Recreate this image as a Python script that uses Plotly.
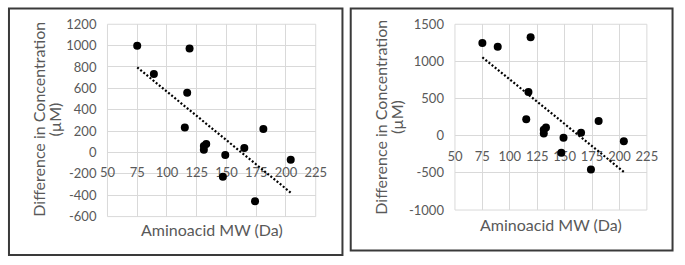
import numpy as np
import plotly.graph_objects as go

# ---- data ----
mw = [75, 89, 119, 117, 115, 131, 131, 133, 149, 147, 165, 181, 174, 204]
diff_left = [1000, 735, 972, 559, 234, 61, 26, 79, -23, -228, 41, 220, -456, -67]
diff_right = [1247, 1196, 1326, 589, 222, 80, 30, 109, -27, -229, 41, 197, -453, -73]

x_ticks = [50, 75, 100, 125, 150, 175, 200, 225]
y_ticks_left = [-600, -400, -200, 0, 200, 400, 600, 800, 1000, 1200]
y_ticks_right = [-1000, -500, 0, 500, 1000, 1500]

x_title = "Aminoacid MW (Da)"
y_title_1 = "Difference in Concentration"
y_title_2 = "(µM)"

W, H = 685, 265
FONT = "Lato, 'Open Sans', sans-serif"
GRAY = "#595959"
GRID = "#d9d9d9"


def px(x):
    return x / W


def py(y):
    return 1 - y / H


def trend(xs, ys):
    m, b = np.polyfit(xs, ys, 1)
    xe = [min(xs), max(xs)]
    return xe, [m * v + b for v in xe]


fig = go.Figure()

panels = [
    dict(y=diff_left, xa="x", ya="y", dx=(102.3, 316.5), dy=(222.0, 17.3),
         yr=(-600, 1200), yt=y_ticks_left),
    dict(y=diff_right, xa="x2", ya="y2", dx=(459.7, 657.1), dy=(215.0, 17.3),
         yr=(-1000, 1500), yt=y_ticks_right),
]

for i, p in enumerate(panels):
    tl_x, tl_y = trend(mw, p["y"])
    fig.add_trace(go.Scatter(x=tl_x, y=tl_y, mode="lines", xaxis=p["xa"], yaxis=p["ya"],
                             line=dict(color="black", width=2.2, dash="2px,2px"),
                             hoverinfo="skip", showlegend=False))
    fig.add_trace(go.Scatter(x=mw, y=p["y"], mode="markers", xaxis=p["xa"], yaxis=p["ya"],
                             marker=dict(color="black", size=8),
                             hoverinfo="skip", showlegend=False))

    y0, y1 = p["yr"]
    ptop, pbot = p["dy"][1], p["dy"][0]
    zero_px = pbot - (0 - y0) / (y1 - y0) * (pbot - ptop)

    suffix = "" if i == 0 else "2"
    xaxis = dict(domain=[px(p["dx"][0]), px(p["dx"][1])], range=[50, 225],
                 tickvals=x_ticks, showgrid=True, gridcolor=GRID, gridwidth=1,
                 zeroline=False, showline=False, ticks="",
                 anchor="free", position=py(zero_px), layer="below traces",
                 ticklabelstandoff=11, fixedrange=True,
                 tickfont=dict(family=FONT, size=13, color=GRAY))
    yaxis = dict(domain=[py(p["dy"][0]), py(p["dy"][1])], range=list(p["yr"]),
                 tickvals=p["yt"], ticktext=[str(v) for v in p["yt"]],
                 showgrid=True, gridcolor=GRID, gridwidth=1,
                 zeroline=True, zerolinecolor=GRID, zerolinewidth=1,
                 showline=False, ticks="", anchor="x" + suffix,
                 ticklabelstandoff=10, fixedrange=True,
                 tickfont=dict(family=FONT, size=13, color=GRAY))
    fig.update_layout(**{"xaxis" + suffix: xaxis, "yaxis" + suffix: yaxis})

    fig.add_shape(type="rect", xref=p["xa"] + " domain", yref=p["ya"] + " domain",
                  x0=0, x1=1, y0=0, y1=1, line=dict(color=GRID, width=1), layer="below")

annotations = [
    dict(x=px(31.0), y=py(118.7), text=y_title_1, textangle=-90),
    dict(x=px(48.3), y=py(118.7), text=y_title_2, textangle=-90),
    dict(x=px(383.3), y=py(116.0), text=y_title_1, textangle=-90),
    dict(x=px(400.0), y=py(116.0), text=y_title_2, textangle=-90),
    dict(x=px(209.5), y=py(235.7), text=x_title),
    dict(x=px(558.3), y=py(230.7), text=x_title),
]
for a in annotations:
    fig.add_annotation(xref="paper", yref="paper", showarrow=False,
                       xanchor="center", yanchor="middle",
                       font=dict(family=FONT, size=16, color=GRAY), **a)

FRAME = "#3a3a3a"
fig.add_shape(type="rect", xref="paper", yref="paper",
              x0=px(1), x1=px(344), y0=py(263), y1=py(0.5),
              line=dict(color=FRAME, width=2))
fig.add_shape(type="rect", xref="paper", yref="paper",
              x0=px(352.5), x1=px(683.5), y0=py(258), y1=py(0.5),
              line=dict(color=FRAME, width=2))

fig.update_layout(width=W, height=H, margin=dict(l=0, r=0, t=0, b=0),
                  paper_bgcolor="white", plot_bgcolor="white",
                  showlegend=False, hovermode=False)

fig.write_html("out.html", config={"displayModeBar": False},
               post_script="document.body.style.margin='0px';")
